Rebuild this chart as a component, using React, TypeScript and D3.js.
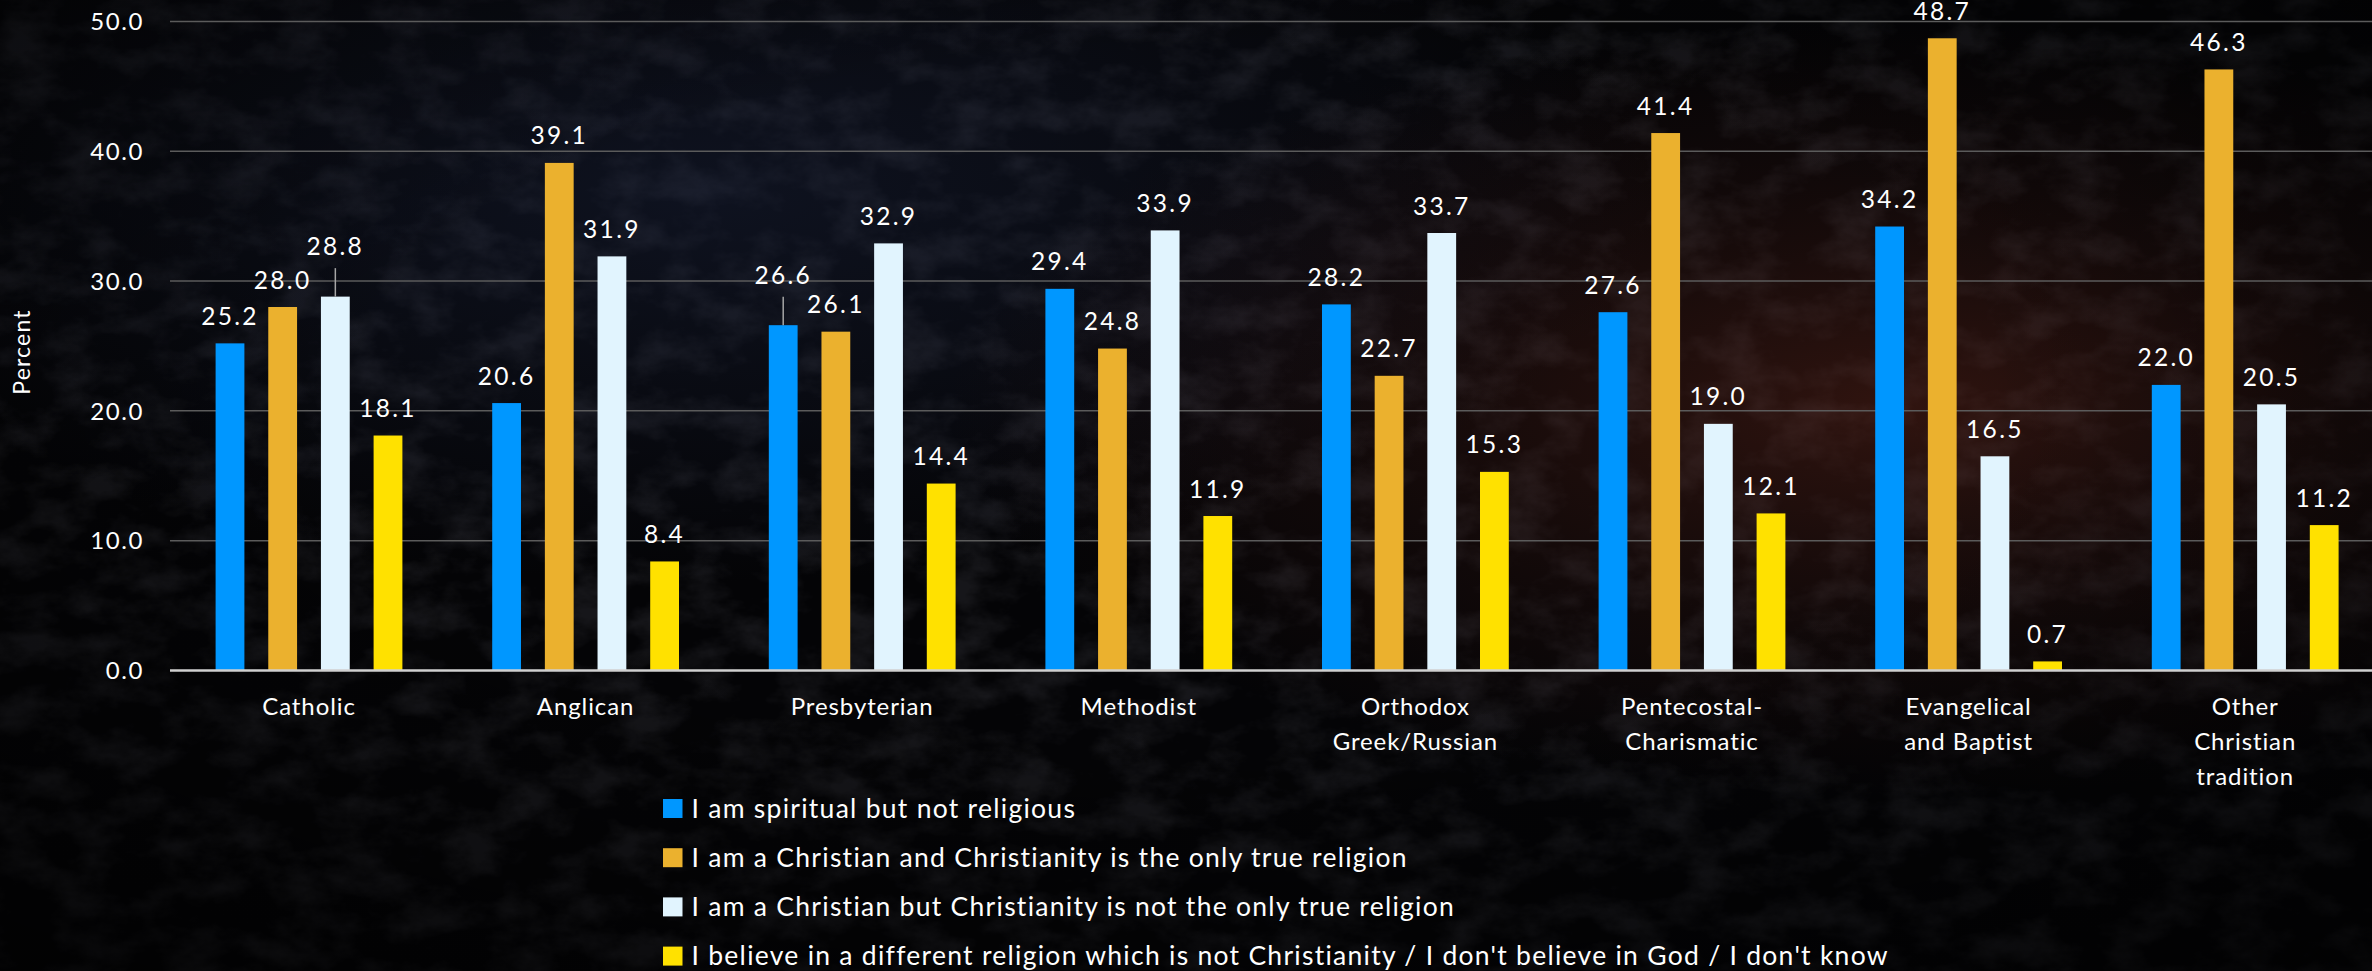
import React, { useEffect } from "react";
import * as d3 from "d3";

const categories = [
  "Catholic",
  "Anglican",
  "Presbyterian",
  "Methodist",
  "Orthodox Greek/Russian",
  "Pentecostal-Charismatic",
  "Evangelical and Baptist",
  "Other Christian tradition",
];
const categoryLines = [
  ["Catholic"],
  ["Anglican"],
  ["Presbyterian"],
  ["Methodist"],
  ["Orthodox", "Greek/Russian"],
  ["Pentecostal-", "Charismatic"],
  ["Evangelical", "and Baptist"],
  ["Other", "Christian", "tradition"],
];
const seriesNames = [
  "I am spiritual but not religious",
  "I am a Christian and Christianity is the only true religion",
  "I am a Christian but Christianity is not the only true religion",
  "I believe in a different religion which is not Christianity / I don't believe in God / I don't know",
];
const spiritualNotReligious = [25.2, 20.6, 26.6, 29.4, 28.2, 27.6, 34.2, 22.0];
const christianOnlyTrue = [28.0, 39.1, 26.1, 24.8, 22.7, 41.4, 48.7, 46.3];
const christianNotOnlyTrue = [28.8, 31.9, 32.9, 33.9, 33.7, 19.0, 16.5, 20.5];
const otherOrNone = [18.1, 8.4, 14.4, 11.9, 15.3, 12.1, 0.7, 11.2];
const yTicks = [0, 10, 20, 30, 40, 50];
// labels that Excel lifted with a leader line: [category index, series index]
const leaderLabels = [
  [0, 2],
  [2, 0],
];

const seriesValues = [spiritualNotReligious, christianOnlyTrue, christianNotOnlyTrue, otherOrNone];
const colors = ["#0097FF", "#EBB12E", "#E1F4FE", "#FFE100"];

const W = 2372;
const H = 971;
const FONT = "Lato, 'Open Sans', sans-serif";

export default function App() {
  useEffect(() => {
    document.body.style.margin = "0";
    document.body.style.background = "#050507";
  }, []);

  const x = d3.scaleBand<string>().domain(categories).range([170.7, 170.7 + 276.6 * 8]).paddingInner(0).paddingOuter(0);
  const y = d3.scaleLinear().domain([0, 50]).range([670.5, 21.4]);
  const sub = d3.scaleLinear().domain([0, 3]).range([-79, 79]);
  const barW = 28.8;
  const fmt = d3.format(".1f");
  const plotLeft = 170;
  const plotRight = W;

  const isLeader = (c: number, s: number) => leaderLabels.some(([a, b]) => a === c && b === s);

  return (
    <svg width={W} height={H} style={{ position: "absolute", left: 0, top: 0, display: "block" }} fontFamily={FONT}>
      <defs>
        <filter id="stone" x="0" y="0" width="100%" height="100%">
          <feTurbulence type="fractalNoise" baseFrequency="0.018 0.03" numOctaves="5" seed="11" result="n" />
          <feColorMatrix
            type="matrix"
            values="0 0 0 0 0.45  0 0 0 0 0.45  0 0 0 0 0.55  0 0 0 -2.6 1.55"
          />
        </filter>
        <radialGradient id="warm" cx="0.8" cy="0.42" r="0.4">
          <stop offset="0" stopColor="#6e2a1c" stopOpacity="0.42" />
          <stop offset="0.6" stopColor="#4a1e16" stopOpacity="0.18" />
          <stop offset="1" stopColor="#4a1e16" stopOpacity="0" />
        </radialGradient>
        <radialGradient id="cool" cx="0.3" cy="0.2" r="0.4">
          <stop offset="0" stopColor="#1e2846" stopOpacity="0.4" />
          <stop offset="1" stopColor="#1e2846" stopOpacity="0" />
        </radialGradient>
        <radialGradient id="vign" cx="0.5" cy="0.4" r="0.75">
          <stop offset="0.45" stopColor="#000" stopOpacity="0" />
          <stop offset="1" stopColor="#000" stopOpacity="0.6" />
        </radialGradient>
      </defs>

      <rect x={0} y={0} width={W} height={H} fill="#040406" />
      <rect x={0} y={0} width={W} height={H} filter="url(#stone)" opacity={0.1} />
      <rect x={0} y={0} width={W} height={H} fill="url(#cool)" />
      <rect x={0} y={0} width={W} height={H} fill="url(#warm)" />
      <rect x={0} y={0} width={W} height={H} fill="url(#vign)" />

      {/* gridlines */}
      {yTicks.map((t) =>
        t === 0 ? null : (
          <line key={t} x1={plotLeft} x2={plotRight} y1={y(t)} y2={y(t)} stroke="#5b5b5b" strokeWidth={1.5} />
        )
      )}

      {/* y tick labels */}
      {yTicks.map((t) => (
        <text key={"yl" + t} x={144} y={y(t)} dy="0.36em" textAnchor="end" fill="#ffffff" fontSize={24} letterSpacing={1.6}>
          {fmt(t)}
        </text>
      ))}

      <text
        transform={`translate(${30},${352}) rotate(-90)`}
        textAnchor="middle"
        fill="#ffffff"
        fontSize={23}
        letterSpacing={1.2}
      >
        Percent
      </text>

      {/* bars */}
      {categories.map((cat, ci) => {
        const cx = (x(cat) as number) + x.bandwidth() / 2;
        return seriesValues.map((vals, si) => {
          const v = vals[ci];
          const bx = cx + sub(si) - barW / 2;
          return (
            <rect key={cat + si} x={bx} y={y(v)} width={barW} height={y(0) - y(v)} fill={colors[si]} />
          );
        });
      })}

      {/* axis line */}
      <line x1={plotLeft} x2={plotRight} y1={y(0)} y2={y(0)} stroke="#d0d0d0" strokeWidth={2.5} />

      {/* data labels */}
      {categories.map((cat, ci) => {
        const cx = (x(cat) as number) + x.bandwidth() / 2;
        return seriesValues.map((vals, si) => {
          const v = vals[ci];
          const lx = cx + sub(si);
          const top = y(v);
          const lifted = isLeader(ci, si);
          const base = lifted ? top - 41.5 : top - 18.5;
          return (
            <g key={"dl" + cat + si}>
              {lifted && <line x1={lx} x2={lx} y1={top} y2={base + 13} stroke="#a6a6a6" strokeWidth={1.5} />}
              <text x={lx} y={base} textAnchor="middle" fill="#ffffff" fontSize={24.5} letterSpacing={2.3}>
                {fmt(v)}
              </text>
            </g>
          );
        });
      })}

      {/* category labels */}
      {categories.map((cat, ci) => {
        const cx = (x(cat) as number) + x.bandwidth() / 2;
        return (
          <text key={"cl" + cat} x={cx} y={715} textAnchor="middle" fill="#ffffff" fontSize={24} letterSpacing={0.9}>
            {categoryLines[ci].map((ln, li) => (
              <tspan key={li} x={cx} y={715 + li * 34.8}>
                {ln}
              </tspan>
            ))}
          </text>
        );
      })}

      {/* legend */}
      {seriesNames.map((name, si) => {
        const top = 799 + si * 49.2;
        return (
          <g key={"lg" + si}>
            <rect x={663} y={top} width={19.5} height={19} fill={colors[si]} />
            <text x={691.5} y={top + 18.7} fill="#ffffff" fontSize={26.5} letterSpacing={1.27}>
              {name}
            </text>
          </g>
        );
      })}
    </svg>
  );
}
